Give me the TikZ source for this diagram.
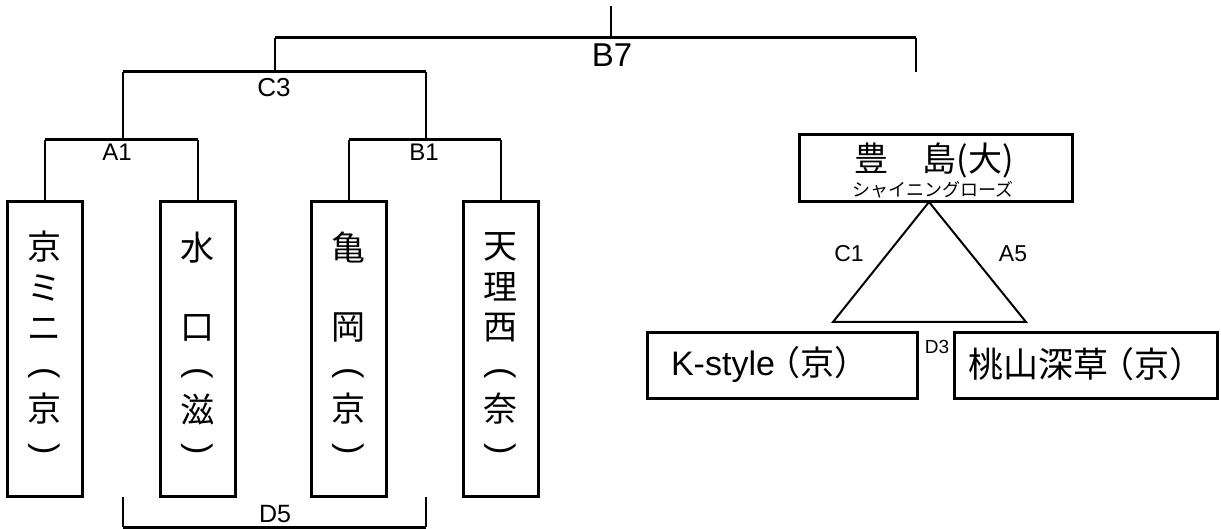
\documentclass[tikz,border=0pt]{standalone}
\usepackage{fontspec}
\newfontfamily\cjk{Noto Sans CJK JP}
\newfontfamily\lat{Liberation Sans}
\newcommand{\fsz}[1]{\fontsize{#1}{#1}\selectfont}
\tikzset{
  hl/.style={line width=3pt},
  vl/.style={line width=2pt},
  vbox/.style={draw, line width=3pt, minimum width=75pt, minimum height=294pt, inner sep=0pt},
  hbox/.style={draw, line width=3pt, inner sep=0pt},
  vch/.style={font=\cjk\fsz{34}, inner sep=0pt},
  vpo/.style={font=\lat\fsz{34}, inner sep=0pt, rotate=-90},
  blab/.style={font=\lat\fsz{24}, inner sep=0pt},
}
\begin{document}
\begin{tikzpicture}[x=1pt,y=-1pt]
\useasboundingbox (0,0) rectangle (1221,529);
% boxes (left)
\node[vbox] (k1) at (44.5,349) {};
\node[vbox] (k2) at (197.5,349) {};
\node[vbox] (k3) at (348.5,349) {};
\node[vbox] (k4) at (500.5,349) {};
% vertical texts
\node[vch] (k1a) at (44.5,247) {京};
\node[vch] (k1b) at (44.5,288) {ミ};
\node[vch] (k1c) at (44.5,329) {ニ};
\node[vpo] (k1d) at (44.5,373) {(};
\node[vch] (k1e) at (44.5,409) {京};
\node[vpo] (k1f) at (44.5,449) {)};
\node[vch] (k2a) at (197.5,248) {水};
\node[vch] (k2b) at (197.5,328) {口};
\node[vpo] (k2d) at (197.5,373) {(};
\node[vch] (k2e) at (197.5,409) {滋};
\node[vpo] (k2f) at (197.5,449) {)};
\node[vch] (k3a) at (348.5,247) {亀};
\node[vch] (k3b) at (348.5,328) {岡};
\node[vpo] (k3d) at (348.5,373) {(};
\node[vch] (k3e) at (348.5,409) {京};
\node[vpo] (k3f) at (348.5,449) {)};
\node[vch] (k4a) at (500.5,247) {天};
\node[vch] (k4b) at (500.5,287) {理};
\node[vch] (k4c) at (500.5,328) {西};
\node[vpo] (k4d) at (500.5,373) {(};
\node[vch] (k4e) at (500.5,409) {奈};
\node[vpo] (k4f) at (500.5,449) {)};
% bracket coordinates
\coordinate (top) at (611,6);
\coordinate (b7m) at (611,38);
\coordinate (b7l) at (275,38);
\coordinate (b7r) at (916,38);
\coordinate (b7end) at (916,72);
\coordinate (c3m) at (275,72);
\coordinate (c3l) at (123,72);
\coordinate (c3r) at (426,72);
\coordinate (a1m) at (123,140);
\coordinate (a1l) at (44.5,140);
\coordinate (a1r) at (197.5,140);
\coordinate (b1m) at (426,140);
\coordinate (b1l) at (348.5,140);
\coordinate (b1r) at (500.5,140);
\coordinate (d5l) at (123,497);
\coordinate (d5r) at (426,497);
\coordinate (d5lb) at (123,527);
\coordinate (d5rb) at (426,527);
% brackets
\draw[vl] (top) -- (b7m);
\draw[hl] (b7l) -- (b7r);
\draw[vl] (b7r) -- (b7end);
\draw[vl] (b7l) -- (c3m);
\draw[hl] (c3l) -- (c3r);
\draw[vl] (c3l) -- (a1m);
\draw[vl] (c3r) -- (b1m);
\draw[hl] (a1l) -- (a1r);
\draw[hl] (b1l) -- (b1r);
\draw[vl] (a1l) -- (k1.north);
\draw[vl] (a1r) -- (k2.north);
\draw[vl] (b1l) -- (k3.north);
\draw[vl] (b1r) -- (k4.north);
\draw[vl] (d5l) -- (d5lb);
\draw[vl] (d5r) -- (d5rb);
\draw[hl] (d5lb) -- (d5rb);
% bracket labels
\node[blab, font=\lat\fsz{33}] (lb7) at (612,55) {B7};
\node[blab, font=\lat\fsz{26}] (lc3) at (274,88) {C3};
\node[blab] (la1) at (117,152.5) {A1};
\node[blab] (lb1) at (424,152.5) {B1};
\node[blab, font=\lat\fsz{25}] (ld5) at (275,514) {D5};
% right part
\node[hbox, minimum width=273pt, minimum height=67pt] (toyo) at (935.5,168.5) {};
\node[font=\cjk\fsz{34}, inner sep=0pt] (toyot) at (934,160) {豊　島(大)};
\node[font=\cjk\fsz{18}, inner sep=0pt] (toyos) at (933,190) {シャイニングローズ};
\coordinate (apex) at (929,202);
\coordinate (tl) at (833,322);
\coordinate (tr) at (1026,322);
\draw[vl, line join=miter] (apex) -- (tl) -- (tr) -- cycle;
\node[blab, font=\lat\fsz{23}] (lc1) at (849,253.5) {C1};
\node[blab, font=\lat\fsz{23}] (la5) at (1013,253.5) {A5};
\node[hbox, minimum width=270pt, minimum height=65pt] (kst) at (782,365.5) {};
\node[inner sep=0pt] (kstt) at (770,364) {\lat\fsz{34}K-style\hspace{-8pt}\cjk （京）};
\node[hbox, minimum width=263pt, minimum height=65pt] (mom) at (1085.5,365.5) {};
\node[font=\cjk\fsz{35}, inner sep=0pt] (momt) at (1086,364) {桃山深草\hspace{-9pt}（京）};
\node[blab, font=\lat\fsz{19}] (ld3) at (937,347) {D3};
\end{tikzpicture}
\end{document}
